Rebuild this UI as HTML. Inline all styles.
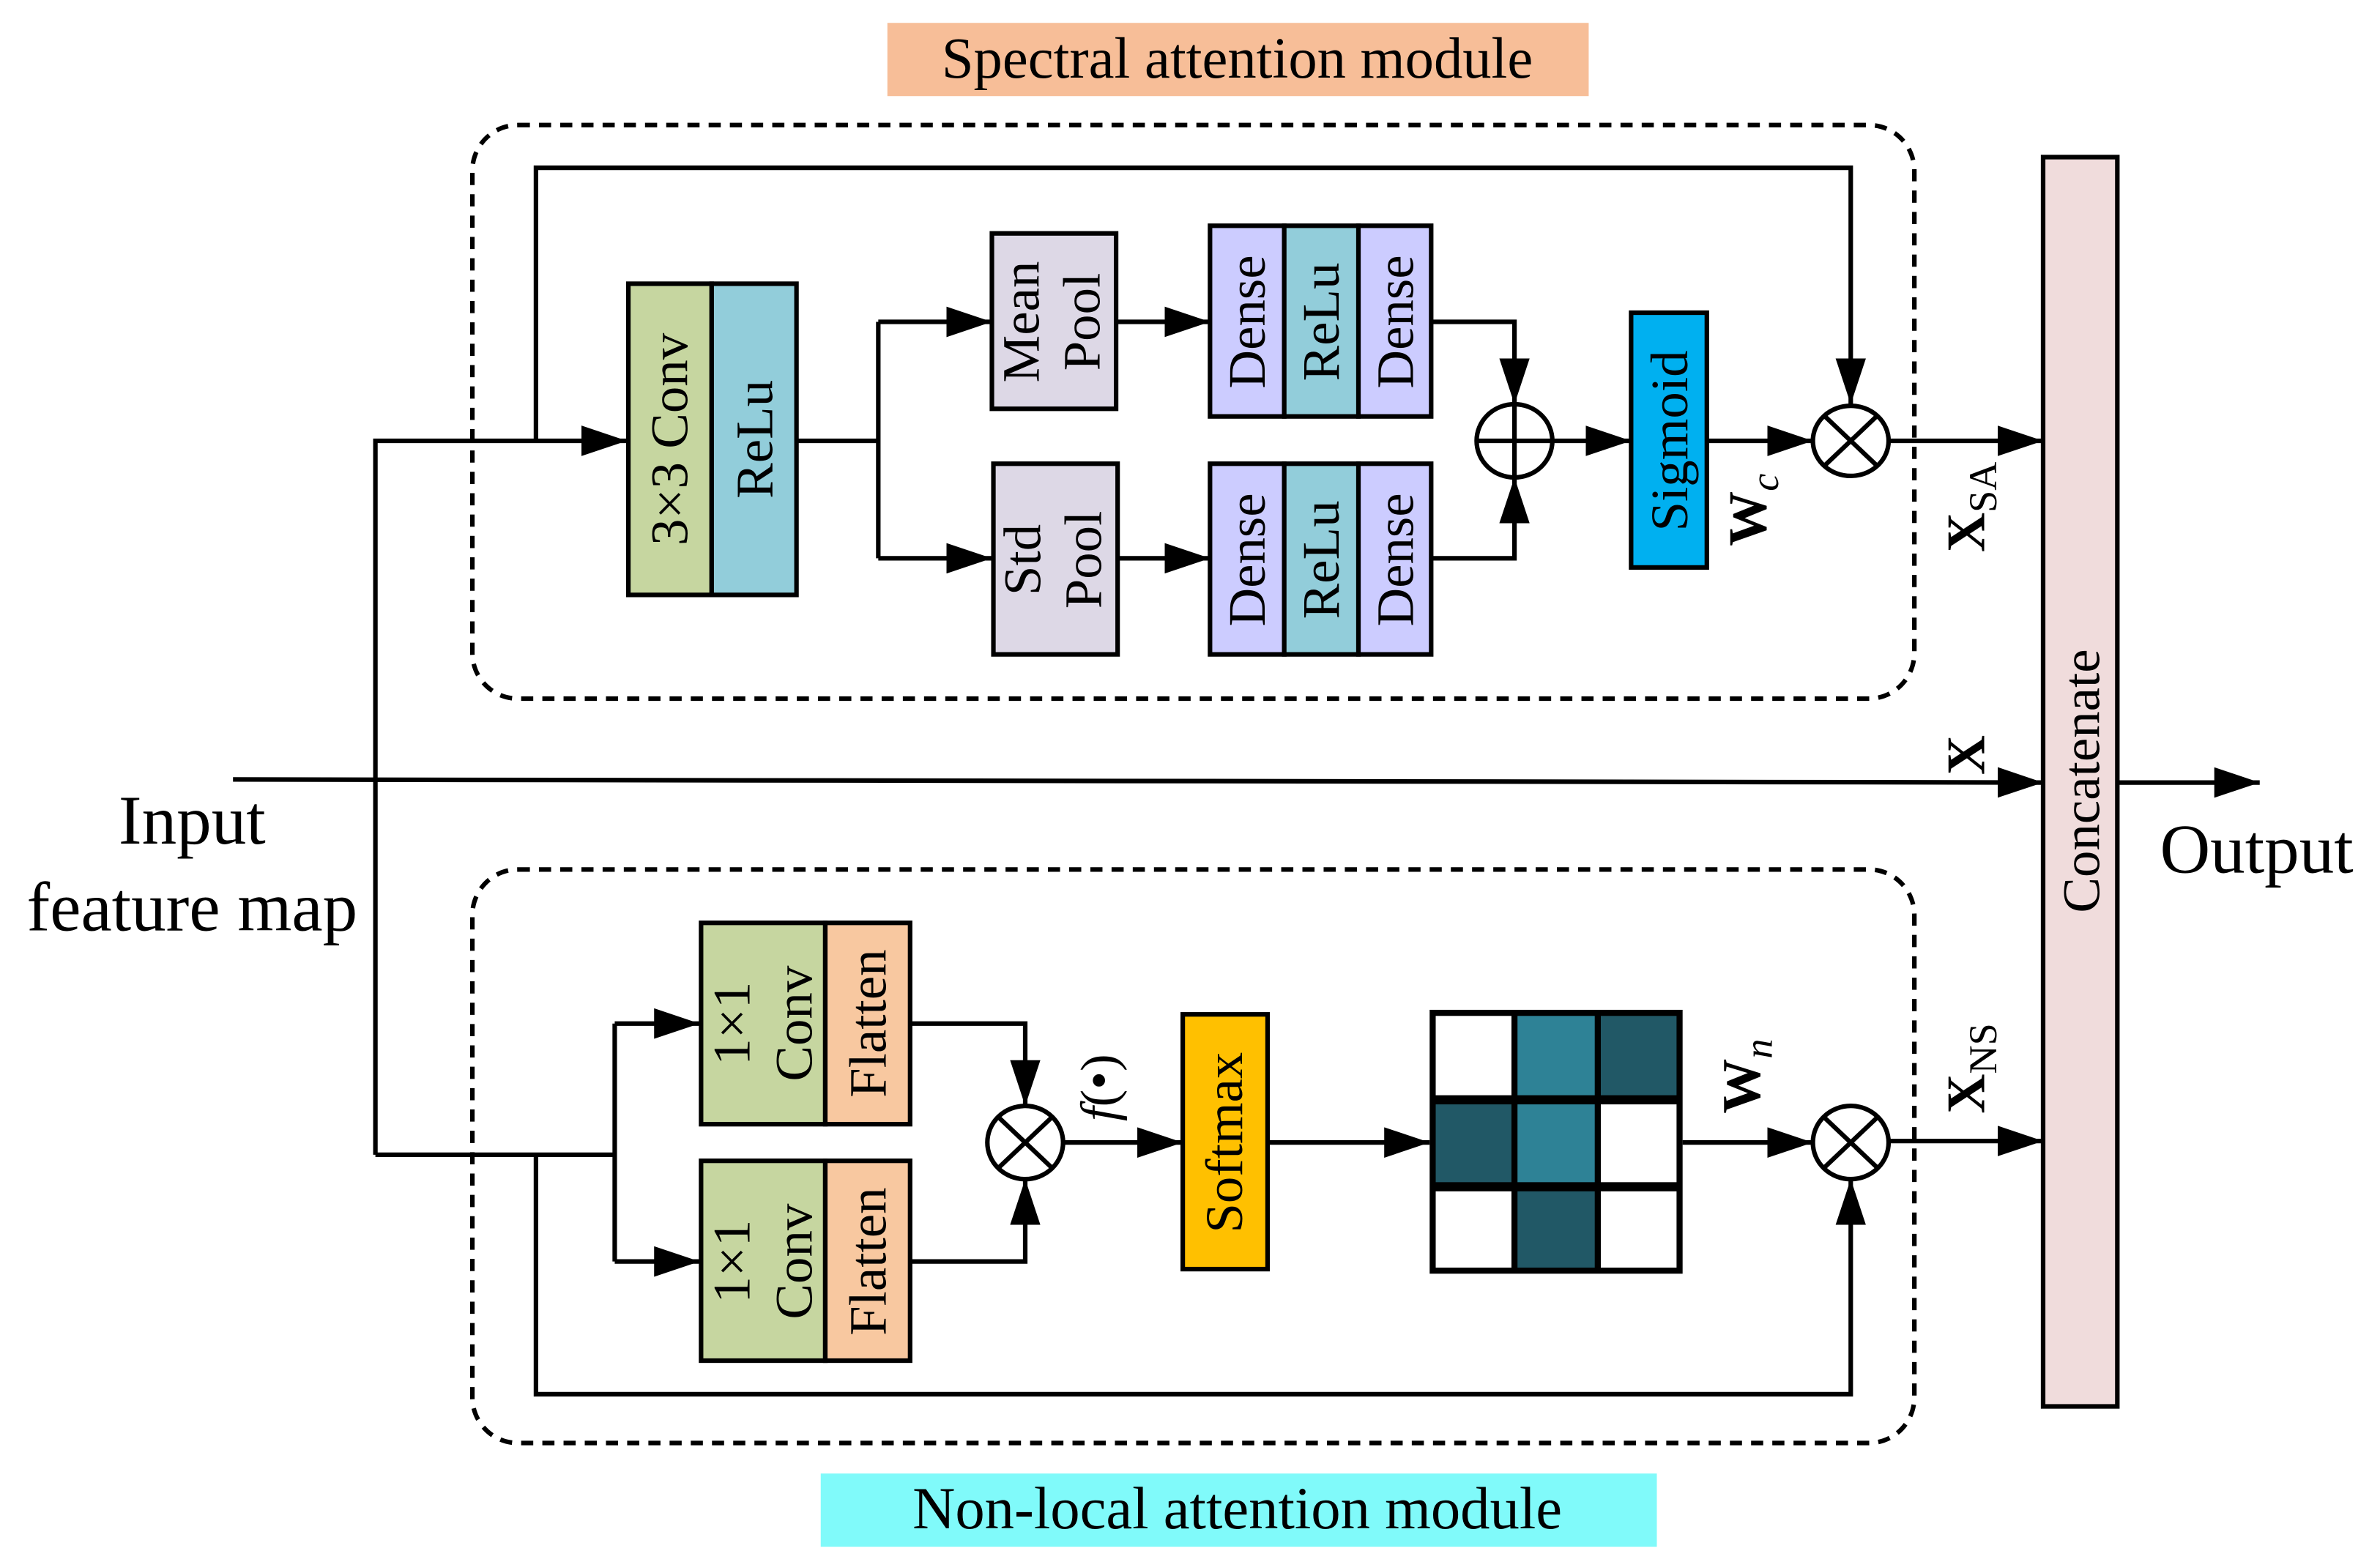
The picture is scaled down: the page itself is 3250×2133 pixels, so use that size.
<!DOCTYPE html>
<html><head><meta charset="utf-8"><style>html,body{margin:0;padding:0;background:#fff}svg{display:block}text{font-family:"Liberation Serif",serif;fill:#000}</style></head>
<body>
<svg width="3250" height="2133" viewBox="0 0 1560 1024" xmlns="http://www.w3.org/2000/svg">
<defs>
<marker id="b" markerWidth="30" markerHeight="20" refX="30" refY="10" orient="auto" markerUnits="userSpaceOnUse" viewBox="0 0 30 20"><path d="M0,0 L30,10 L0,20 z" fill="#000"/></marker>
</defs>
<g transform="matrix(0.993 0 0 1 1.7 0)">
<g stroke="#000" stroke-width="3" fill="none">
<rect x="584" y="15" width="463" height="48" fill="#F7BE98" stroke="none"/>
<rect x="540" y="966" width="552" height="48" fill="#80FAFA" stroke="none"/>
<rect x="310" y="82" width="952" height="376" rx="30" stroke-dasharray="8,6"/>
<rect x="310" y="570" width="952" height="376" rx="30" stroke-dasharray="8,6"/>
<rect x="1347" y="103" width="49" height="819" fill="#F0DCDC"/>
<rect x="413" y="186" width="55" height="204" fill="#C6D6A0"/>
<rect x="468" y="186" width="56" height="204" fill="#92CDDA"/>
<rect x="653" y="153" width="82" height="115" fill="#DDD8E6"/>
<rect x="654" y="304" width="82" height="125" fill="#DDD8E6"/>
<rect x="797" y="148" width="49" height="125" fill="#CCCCFF"/>
<rect x="846" y="148" width="49" height="125" fill="#92CDDA"/>
<rect x="895" y="148" width="48" height="125" fill="#CCCCFF"/>
<rect x="797" y="304" width="49" height="125" fill="#CCCCFF"/>
<rect x="846" y="304" width="49" height="125" fill="#92CDDA"/>
<rect x="895" y="304" width="48" height="125" fill="#CCCCFF"/>
<rect x="1075" y="205" width="50" height="167" fill="#00B0F0"/>
<ellipse cx="998" cy="289" rx="25" ry="24"/>
<line x1="973" y1="289" x2="1023" y2="289"/><line x1="998" y1="265" x2="998" y2="313"/>
<ellipse cx="1220" cy="289" rx="25" ry="23"/>
<line x1="1203" y1="273" x2="1237" y2="305"/><line x1="1237" y1="273" x2="1203" y2="305"/>
<line x1="152" y1="511" x2="1347" y2="513" marker-end="url(#b)"/>
<polyline points="246,757 246,289 412,289" marker-end="url(#b)"/>
<polyline points="352,289 352,110 1220,110 1220,265" marker-end="url(#b)"/>
<line x1="524" y1="289" x2="578" y2="289"/>
<line x1="578" y1="211" x2="578" y2="366"/>
<line x1="578" y1="211" x2="653" y2="211" marker-end="url(#b)"/>
<line x1="578" y1="366" x2="653" y2="366" marker-end="url(#b)"/>
<line x1="735" y1="211" x2="797" y2="211" marker-end="url(#b)"/>
<line x1="736" y1="366" x2="797" y2="366" marker-end="url(#b)"/>
<polyline points="943,211 998,211 998,265" marker-end="url(#b)"/>
<polyline points="943,366 998,366 998,313" marker-end="url(#b)"/>
<line x1="1023" y1="289" x2="1075" y2="289" marker-end="url(#b)"/>
<line x1="1125" y1="289" x2="1195" y2="289" marker-end="url(#b)"/>
<line x1="1245" y1="289" x2="1347" y2="289" marker-end="url(#b)"/>
<line x1="1396" y1="513" x2="1490" y2="513" marker-end="url(#b)"/>
<rect x="461" y="605" width="82" height="132" fill="#C6D6A0"/>
<rect x="543" y="605" width="56" height="132" fill="#F8C8A0"/>
<rect x="461" y="761" width="82" height="131" fill="#C6D6A0"/>
<rect x="543" y="761" width="56" height="131" fill="#F8C8A0"/>
<rect x="779" y="665" width="56" height="167" fill="#FFC000"/>
<g stroke="none">
<rect x="942" y="662" width="167" height="173" fill="#000"/>
<rect x="946" y="666" width="50" height="52" fill="#fff"/>
<rect x="1000" y="666" width="51" height="52" fill="#2E8296"/>
<rect x="1055" y="666" width="50" height="52" fill="#215866"/>
<rect x="946" y="724" width="50" height="51" fill="#215866"/>
<rect x="1000" y="724" width="51" height="51" fill="#2E8296"/>
<rect x="1055" y="724" width="50" height="51" fill="#fff"/>
<rect x="946" y="781" width="50" height="50" fill="#fff"/>
<rect x="1000" y="781" width="51" height="50" fill="#215866"/>
<rect x="1055" y="781" width="50" height="50" fill="#fff"/>
</g>
<ellipse cx="675" cy="749" rx="25" ry="24"/>
<line x1="658" y1="733" x2="692" y2="765"/><line x1="692" y1="733" x2="658" y2="765"/>
<ellipse cx="1220" cy="749" rx="25" ry="24"/>
<line x1="1203" y1="733" x2="1237" y2="765"/><line x1="1237" y1="733" x2="1203" y2="765"/>
<line x1="246" y1="757" x2="404" y2="757"/>
<polyline points="352,757 352,914 1220,914 1220,773" marker-end="url(#b)"/>
<line x1="404" y1="671" x2="404" y2="827"/>
<line x1="404" y1="671" x2="460" y2="671" marker-end="url(#b)"/>
<line x1="404" y1="827" x2="460" y2="827" marker-end="url(#b)"/>
<polyline points="599,671 675,671 675,725" marker-end="url(#b)"/>
<polyline points="599,827 675,827 675,773" marker-end="url(#b)"/>
<line x1="700" y1="749" x2="779" y2="749" marker-end="url(#b)"/>
<line x1="835" y1="749" x2="942" y2="749" marker-end="url(#b)"/>
<line x1="1109" y1="749" x2="1195" y2="749" marker-end="url(#b)"/>
<line x1="1245" y1="748" x2="1347" y2="748" marker-end="url(#b)"/>
</g>
<text x="815" y="51" font-size="38" text-anchor="middle">Spectral attention module</text>
<text x="815" y="1002" font-size="39" text-anchor="middle">Non-local attention module</text>
<text x="125" y="553" font-size="46" text-anchor="middle">Input</text>
<text x="125" y="610" font-size="46" text-anchor="middle">feature map</text>
<text x="1488" y="572" font-size="46" text-anchor="middle">Output</text>
<g font-size="35" text-anchor="middle">
<text transform="translate(452,288) rotate(-90)">3×3 Conv</text>
<text transform="translate(508,288) rotate(-90)">ReLu</text>
<text transform="translate(684,211) rotate(-90)">Mean</text>
<text transform="translate(724,211) rotate(-90)">Pool</text>
<text transform="translate(685,367) rotate(-90)">Std</text>
<text transform="translate(725,367) rotate(-90)">Pool</text>
<text transform="translate(833,211) rotate(-90)">Dense</text>
<text transform="translate(882,211) rotate(-90)">ReLu</text>
<text transform="translate(931,211) rotate(-90)">Dense</text>
<text transform="translate(833,367) rotate(-90)">Dense</text>
<text transform="translate(882,367) rotate(-90)">ReLu</text>
<text transform="translate(931,367) rotate(-90)">Dense</text>
<text transform="translate(1112,289) rotate(-90)">Sigmoid</text>
<text transform="translate(1384,512) rotate(-90)">Concatenate</text>
<text transform="translate(493,671) rotate(-90)">1×1</text>
<text transform="translate(534,671) rotate(-90)">Conv</text>
<text transform="translate(583,671) rotate(-90)">Flatten</text>
<text transform="translate(493,827) rotate(-90)">1×1</text>
<text transform="translate(534,827) rotate(-90)">Conv</text>
<text transform="translate(583,827) rotate(-90)">Flatten</text>
<text transform="translate(818,749) rotate(-90)">Softmax</text>
</g>
<g font-size="36" font-weight="bold">
<text transform="translate(1164,358) rotate(-90)">W<tspan font-size="26" font-style="italic" font-weight="normal" dy="8">c</tspan></text>
<text transform="translate(1308,362) rotate(-90)">X<tspan font-size="26" font-weight="normal" dy="8">SA</tspan></text>
<text transform="translate(1308,508) rotate(-90)">X</text>
<text transform="translate(1160,730) rotate(-90)">W<tspan font-size="26" font-style="italic" font-weight="normal" dy="8">n</tspan></text>
<text transform="translate(1308,730) rotate(-90)">X<tspan font-size="26" font-weight="normal" dy="8">NS</tspan></text>
</g>
<text transform="translate(735,735) rotate(-90)" font-size="34" font-style="italic">f<tspan font-style="normal">(•)</tspan></text>
</g>
</svg>
</body></html>
